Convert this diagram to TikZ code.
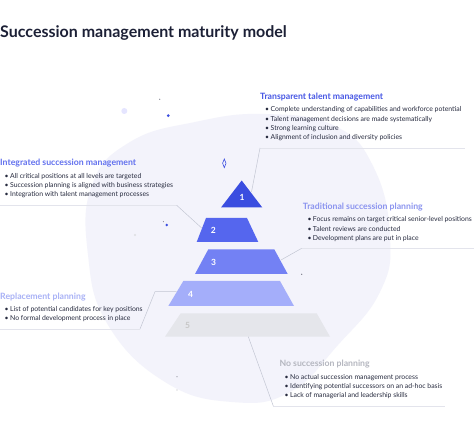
\documentclass[tikz,border=0pt]{standalone}
\usepackage{fontspec}
\setmainfont{Lato}
\definecolor{ink}{HTML}{1C2036}
\definecolor{body}{HTML}{262A3E}
\definecolor{blobc}{HTML}{F3F3FB}
\definecolor{cA}{HTML}{3A4DE0}
\definecolor{cB}{HTML}{5566EE}
\definecolor{cC}{HTML}{7381F4}
\definecolor{cD}{HTML}{A4AEFA}
\definecolor{cE}{HTML}{E5E6EB}
\definecolor{hA}{HTML}{4656E4}
\definecolor{hB}{HTML}{6170EE}
\definecolor{hC}{HTML}{8A93EF}
\definecolor{hD}{HTML}{A8B1F6}
\definecolor{hE}{HTML}{B4B6BF}
\definecolor{cardl}{HTML}{E3E4EC}
\definecolor{conn}{HTML}{C3C6D3}
\begin{document}
\begin{tikzpicture}[x=1pt,y=-1pt,
  bl/.style={anchor=west,inner sep=0pt,text=body,font=\fontsize{6.85}{7.5}\selectfont},
  hd/.style={anchor=west,inner sep=0pt,font=\fontsize{8.7}{10}\selectfont\bfseries},
  num/.style={inner sep=0pt,font=\fontsize{8.5}{9}\selectfont\bfseries,text=white},
  cardline/.style={draw=cardl,line width=0.8pt},
  connline/.style={draw=conn,line width=0.5pt}]
\useasboundingbox (0,0) rectangle (474,438);
\fill[white] (0,0) rectangle (474,438);
% background blob
\fill[blobc] plot[smooth cycle,tension=0.75] coordinates {(92,185) (130,142) (195,122) (265,114) (335,126) (374,168) (390,237) (380,292) (338,345) (290,392) (232,402) (165,382) (108,325) (88,255)};
% decorations
\fill[color=blue!10!white] (124.3,111) circle (3pt);
\fill[color=ink!60] (159.7,99.3) circle (0.6pt);
\fill[cA] (168.3,115.7) circle (1.5pt);
\draw[cA,line width=0.6pt] (224.3,159) -- (226,163.3) -- (224.3,167.6) -- (222.6,163.3) -- cycle;
\fill[cA] (166.7,225) circle (1.4pt);
\fill[color=ink!70] (163.3,221.7) circle (0.5pt);
\fill[color=ink!15] (135,235) circle (1.2pt);
\fill[color=ink!70] (301.7,274.3) circle (0.6pt);
\fill[color=ink!50] (177,376.7) circle (0.6pt);
\fill[color=ink!15] (177,390) circle (0.9pt);
% title
\node[anchor=west,inner sep=0pt,text=ink,font=\fontsize{16}{19}\selectfont\bfseries] (title) at (0,33.5) {Succession management maturity model};
% pyramid
\fill[cA] (241.7,180.5) -- (262.3,207.5) -- (221,207.5) -- cycle;
\fill[cB] (206,218) -- (247,218) -- (258.3,242) -- (196.7,242) -- cycle;
\fill[cC] (208.3,249.3) -- (274.3,249.3) -- (287.7,274) -- (195,274) -- cycle;
\fill[cD] (183.3,281) -- (280,281) -- (294,306) -- (168.3,306) -- cycle;
\fill[cE] (180.7,313.3) -- (316.7,313.3) -- (330,336.7) -- (165,336.7) -- cycle;
\node[num] (n1) at (242,197) {1};
\node[num] (n2) at (213.3,230.7) {2};
\node[num] (n3) at (213.7,262) {3};
\node[num] (n4) at (190.7,294) {4};
\node[num,text=black!22] (n5) at (187.7,325.3) {5};
% anchor coordinates
\coordinate (tA1) at (260,148); \coordinate (tA2) at (465,148); \coordinate (pA) at (251.5,192);
\coordinate (tB1) at (0,205.3); \coordinate (tB2) at (176.7,205.3); \coordinate (pB) at (202,228.3);
\coordinate (tC1) at (301.7,248.3); \coordinate (tC2) at (474,248.3); \coordinate (pC) at (281,260);
\coordinate (tD1) at (0,329); \coordinate (tD2) at (140,329); \coordinate (tD3) at (155,291.7); \coordinate (pD) at (176.5,291.7);
\coordinate (tE1) at (273.3,406); \coordinate (tE2) at (445,406); \coordinate (pE) at (248.3,336.7);
% card lines and connectors
\draw[cardline] (tA1) -- (tA2);
\draw[connline] (tA1) -- (pA);
\draw[cardline] (tB1) -- (tB2);
\draw[connline] (tB2) -- (pB);
\draw[cardline] (tC1) -- (tC2);
\draw[connline] (tC1) -- (pC);
\draw[cardline] (tD1) -- (tD2);
\draw[connline] (tD2) -- (tD3) -- (pD);
\draw[cardline] (tE1) -- (tE2);
\draw[connline] (tE1) -- (pE);
% texts: Transparent
\node[hd,text=hA] (hA) at (260,96.7) {Transparent talent management};
\node[bl] (a1) at (265,110) {\makebox[5.5pt][l]{•}Complete understanding of capabilities and workforce potential};
\node[bl] (a2) at (265,119.2) {\makebox[5.5pt][l]{•}Talent management decisions are made systematically};
\node[bl] (a3) at (265,128.3) {\makebox[5.5pt][l]{•}Strong learning culture};
\node[bl] (a4) at (265,137.3) {\makebox[5.5pt][l]{•}Alignment of inclusion and diversity policies};
% Integrated
\node[hd,text=hB] (hB) at (0,163.3) {Integrated succession management};
\node[bl] (b1) at (4.5,176.7) {\makebox[5.5pt][l]{•}All critical positions at all levels are targeted};
\node[bl] (b2) at (4.5,185.8) {\makebox[5.5pt][l]{•}Succession planning is aligned with business strategies};
\node[bl] (b3) at (4.5,194.9) {\makebox[5.5pt][l]{•}Integration with talent management processes};
% Traditional
\node[hd,text=hC] (hC) at (302.7,206.7) {Traditional succession planning};
\node[bl] (c1) at (307.3,220) {\makebox[5.5pt][l]{•}Focus remains on target critical senior-level positions};
\node[bl] (c2) at (307.3,229.1) {\makebox[5.5pt][l]{•}Talent reviews are conducted};
\node[bl] (c3) at (307.3,238.3) {\makebox[5.5pt][l]{•}Development plans are put in place};
% Replacement
\node[hd,text=hD] (hD) at (0,296.7) {Replacement planning};
\node[bl] (d1) at (4.5,310) {\makebox[5.5pt][l]{•}List of potential candidates for key positions};
\node[bl] (d2) at (4.5,319) {\makebox[5.5pt][l]{•}No formal development process in place};
% No succession
\node[hd,text=hE] (hE) at (279.3,364) {No succession planning};
\node[bl] (e1) at (284.5,377.7) {\makebox[5.5pt][l]{•}No actual succession management process};
\node[bl] (e2) at (284.5,386.7) {\makebox[5.5pt][l]{•}Identifying potential successors on an ad-hoc basis};
\node[bl] (e3) at (284.5,395.7) {\makebox[5.5pt][l]{•}Lack of managerial and leadership skills};
\end{tikzpicture}
\end{document}
